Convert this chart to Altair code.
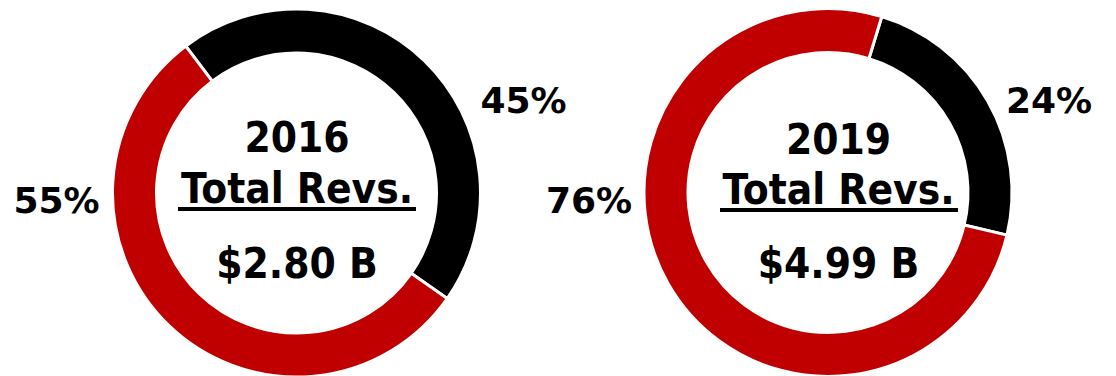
import math
import altair as alt
import pandas as pd

# ---- data ----
years = ["2016", "2019"]
totals = ["$2.80 B", "$4.99 B"]
segments = ["Black segment", "Red segment"]
black_share = [45, 24]
red_share = [55, 76]

RED = "#C00000"
BLACK = "#000000"
CENTER_FONT = "DejaVu Sans Condensed"
PCT_FONT = "DejaVu Sans"

W, H = 1100, 368

# layout (pixels in plot area)
centers = [(288.5, 185), (820, 184.5)]
start_deg = [323, 17]  # where the black segment starts (clockwise from 12 o'clock)
text_x = [289, 830.5]
year_y = [144, 146]
label_y = [195, 196]
under_y = [201, 202]
under_x = [(170, 408), (712, 950)]
total_y = [270, 270]
pct_pos = [  # (black label x,y), (red label x,y)
    [(515.5, 105), (48.5, 205)],
    [(1041, 105), (581, 205)],
]

layers = []
for i in range(2):
    df = pd.DataFrame({
        "segment": segments,
        "share": [black_share[i], red_share[i]],
        "order": [0, 1],
    })
    cx, cy = centers[i]
    s = math.radians(start_deg[i])
    arc = alt.Chart(df).mark_arc(
        outerRadius=184, innerRadius=140, stroke="white", strokeWidth=3
    ).encode(
        theta=alt.Theta("share:Q", stack=True,
                        scale=alt.Scale(range=[s, s + 2 * math.pi])),
        order=alt.Order("order:Q"),
        color=alt.Color("segment:N",
                        scale=alt.Scale(domain=segments, range=[BLACK, RED]),
                        legend=None),
        x=alt.value(cx),
        y=alt.value(cy),
    )
    layers.append(arc)

    def txt(t, x, y, size, font):
        return alt.Chart(pd.DataFrame({"t": [t]})).mark_text(
            font=font, fontSize=size, fontWeight="bold", color="black",
            baseline="alphabetic", align="center"
        ).encode(text="t:N", x=alt.value(x), y=alt.value(y))

    layers.append(txt(years[i], text_x[i], year_y[i], 42, CENTER_FONT))
    layers.append(txt("Total Revs.", text_x[i], label_y[i], 42, CENTER_FONT))
    layers.append(txt(totals[i], text_x[i], total_y[i], 42, CENTER_FONT))
    layers.append(
        alt.Chart(pd.DataFrame({"a": [0]})).mark_rule(
            color="black", strokeWidth=4
        ).encode(x=alt.value(under_x[i][0]), x2=alt.value(under_x[i][1]),
                 y=alt.value(under_y[i]))
    )
    (bx, by), (rx, ry) = pct_pos[i]
    layers.append(txt(f"{black_share[i]}%", bx, by, 36, PCT_FONT))
    layers.append(txt(f"{red_share[i]}%", rx, ry, 36, PCT_FONT))

chart = alt.layer(*layers).resolve_scale(theta="independent", color="independent").properties(
    width=W, height=H, padding=0, autosize=alt.AutoSizeParams(type="none")
).configure_view(stroke=None)

chart.save("out.html", embed_options={"renderer": "svg", "actions": False})
